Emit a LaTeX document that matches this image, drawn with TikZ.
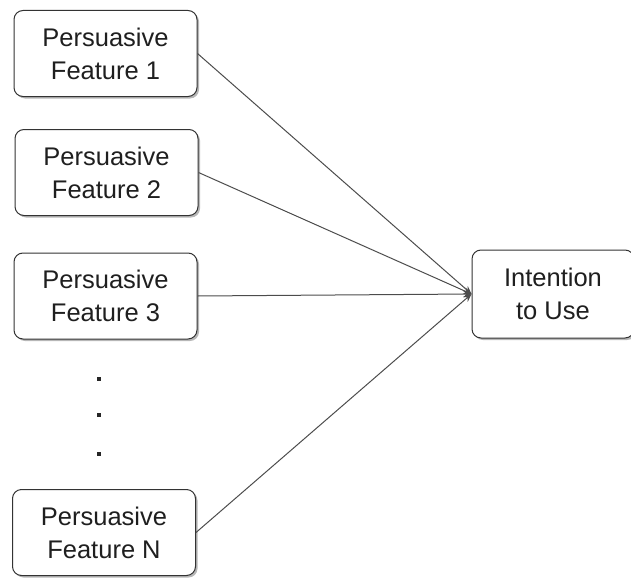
\documentclass[tikz,border=0pt]{standalone}
\usepackage{fontspec}
\setmainfont{Liberation Sans}
\usetikzlibrary{arrows.meta,shadows}
\begin{document}
\begin{tikzpicture}[x=1pt,y=-1pt,
  featbox/.style={draw=black!80, line width=1pt, rounded corners=9pt, fill=white,
    drop shadow={shadow xshift=2pt, shadow yshift=-2pt, fill=black!40, opacity=0.7},
    minimum width=183pt, minimum height=86pt, align=center, text=black!88,
    font=\fontsize{25.5}{33}\selectfont, inner sep=0pt},
  link/.style={draw=black!70, line width=1pt, -{Stealth[length=8pt,width=7pt]}},
  dotmark/.style={fill=black!85, inner sep=0pt, minimum size=3.5pt}]
  \useasboundingbox (0,0) rectangle (631,578);
  \clip (0,0) rectangle (631,578);
  % input features
  \node[featbox] (f1) at (105.5,53.5) {Persuasive\\Feature 1};
  \node[featbox] (f2) at (106.5,172.5) {Persuasive\\Feature 2};
  \node[featbox] (f3) at (105.5,296) {Persuasive\\Feature 3};
  \node[featbox] (fn) at (104,532.5) {Persuasive\\Feature N};
  % outcome
  \node[featbox, minimum width=162pt, minimum height=88pt] (use) at (553,294) {Intention\\to Use};
  % ellipsis between feature 3 and feature N
  \node[dotmark] (d1) at (99,379) {};
  \node[dotmark] (d2) at (99,415) {};
  \node[dotmark] (d3) at (99,454) {};
  % connectors
  \draw[link] (f1.east) -- (use.west);
  \draw[link] (f2.east) -- (use.west);
  \draw[link] (f3.east) -- (use.west);
  \draw[link] (fn.east) -- (use.west);
\end{tikzpicture}
\end{document}
